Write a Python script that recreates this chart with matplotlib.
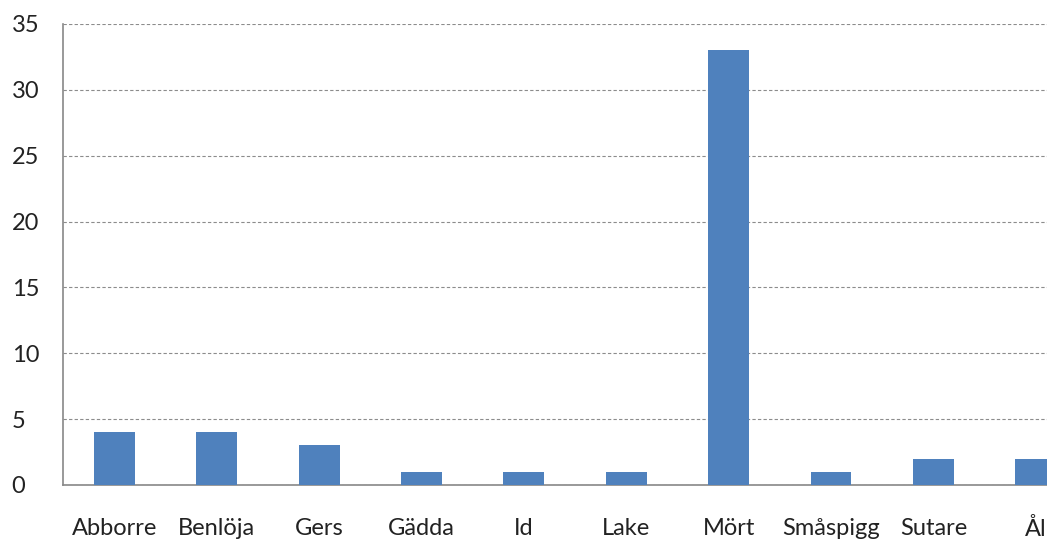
import matplotlib.pyplot as plt

# Catch per species
species = ["Abborre", "Benlöja", "Gers", "Gädda", "Id", "Lake", "Mört", "Småspigg", "Sutare", "Ål"]
counts = [4, 4, 3, 1, 1, 1, 33, 1, 2, 2]
y_ticks = [0, 5, 10, 15, 20, 25, 30, 35]

plt.rcParams['font.family'] = ['Lato', 'DejaVu Sans']

fig = plt.figure(figsize=(10.47, 5.39), dpi=100)
# axes run past the right edge, so the last bar is cut off
ax = fig.add_axes([0.0602, 0.1002, 0.978, 0.8553])

x = range(len(species))
ax.bar(x, counts, width=0.4, color="#4F81BD", zorder=3)

ax.set_xlim(-0.5, len(species) - 0.5)
ax.set_ylim(0, 35)
ax.set_yticks(y_ticks)
ax.set_xticks(list(x))
ax.set_xticklabels(species)

ax.yaxis.grid(True, linestyle=(0, (3, 2)), color="#8c8c8c", linewidth=0.8, zorder=0)
for side in ["top", "right"]:
    ax.spines[side].set_visible(False)
for side in ["left", "bottom"]:
    ax.spines[side].set_color("#888888")
    ax.spines[side].set_linewidth(1.2)

ax.tick_params(axis="both", length=0, labelsize=17, colors="#222222")
ax.tick_params(axis="x", pad=24)
ax.tick_params(axis="y", pad=37)
for lbl in ax.get_yticklabels():
    lbl.set_horizontalalignment("left")

fig.savefig("out.png", dpi=100)
